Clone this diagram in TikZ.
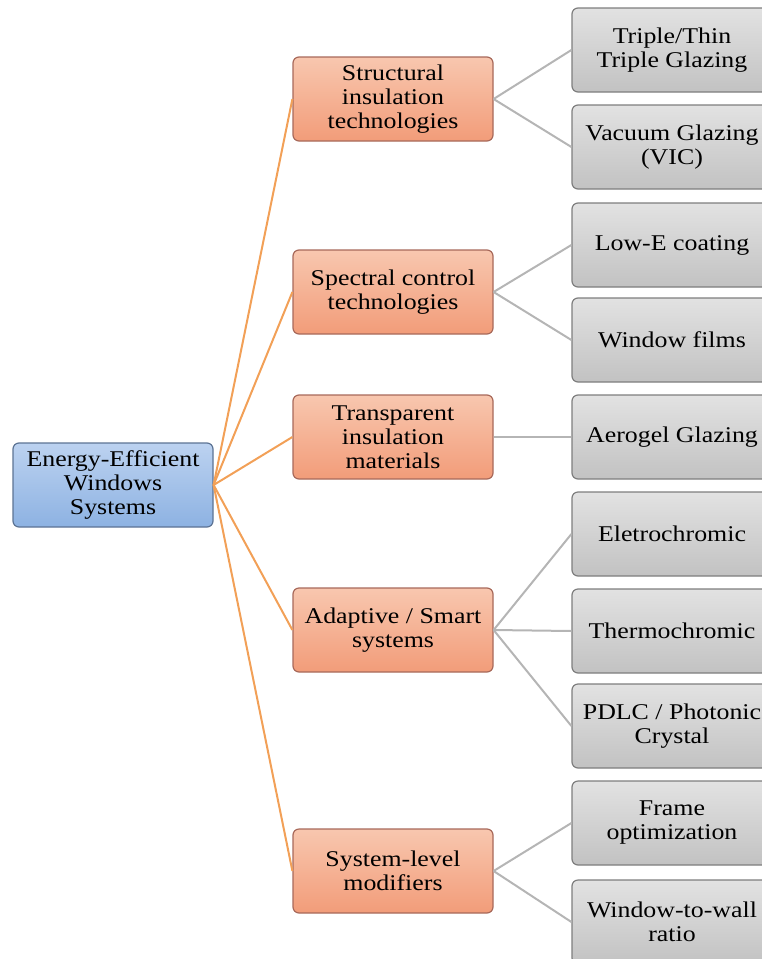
\documentclass[tikz,border=0pt]{standalone}
\usepackage{fontspec}
\setmainfont{Liberation Serif}[FakeStretch=1.15]
\usetikzlibrary{positioning}
\definecolor{roottop}{HTML}{BCD2F0}
\definecolor{rootbot}{HTML}{8DB2E2}
\definecolor{rootedge}{HTML}{5C7394}
\definecolor{cattop}{HTML}{F8C7AF}
\definecolor{catbot}{HTML}{F29C79}
\definecolor{catedge}{HTML}{A8695A}
\definecolor{leaftop}{HTML}{E2E2E2}
\definecolor{leafbot}{HTML}{C2C2C2}
\definecolor{leafedge}{HTML}{7E7E7E}
\definecolor{orangeline}{HTML}{F2A057}
\definecolor{grayline}{HTML}{B5B5B5}
\tikzset{
  box/.style={
    rectangle,
    line width=1.2pt,
    rounded corners=6pt,
    minimum width=200pt,
    minimum height=84pt,
    inner sep=2pt,
    align=center,
    font=\fontsize{22.5}{24}\selectfont
  },
  rootbox/.style={box, draw=rootedge, top color=roottop, bottom color=rootbot},
  catbox/.style={box, draw=catedge, top color=cattop, bottom color=catbot},
  leafbox/.style={box, draw=leafedge, top color=leaftop, bottom color=leafbot},
  rootlink/.style={draw=orangeline, line width=2pt},
  leaflink/.style={draw=grayline, line width=2pt}
}
\begin{document}
\begin{tikzpicture}[x=1pt,y=-1pt]
\useasboundingbox (0,0) rectangle (762,959);
\clip (0,0) rectangle (762,959);

% root
\node[rootbox] (root) at (113,485) {Energy-Efficient\\Windows\\Systems};

% categories
\node[catbox] (struct) at (393,99) {Structural\\insulation\\technologies};
\node[catbox] (spec) at (393,292) {Spectral control\\technologies};
\node[catbox] (trans) at (393,437) {Transparent\\insulation\\materials};
\node[catbox] (adapt) at (393,630) {Adaptive / Smart\\systems};
\node[catbox] (sys) at (393,871) {System-level\\modifiers};

% leaves
\node[leafbox] (triple) at (672,50) {Triple/Thin\\Triple Glazing};
\node[leafbox] (vacuum) at (672,147) {Vacuum Glazing\\(VIC)};
\node[leafbox] (lowe) at (672,245) {Low-E coating};
\node[leafbox] (films) at (672,340) {Window films};
\node[leafbox] (aerogel) at (672,437) {Aerogel Glazing};
\node[leafbox] (electro) at (672,534) {Eletrochromic};
\node[leafbox] (thermo) at (672,631) {Thermochromic};
\node[leafbox] (pdlc) at (672,726) {PDLC / Photonic\\Crystal};
\node[leafbox] (frame) at (672,823) {Frame\\optimization};
\node[leafbox] (wwr) at (672,922) {Window-to-wall\\ratio};

\foreach \c in {struct,spec,trans,adapt,sys}
  \draw[rootlink] (root.east) -- (\c.west);

\draw[leaflink] (struct.east) -- (triple.west);
\draw[leaflink] (struct.east) -- (vacuum.west);
\draw[leaflink] (spec.east) -- (lowe.west);
\draw[leaflink] (spec.east) -- (films.west);
\draw[leaflink] (trans.east) -- (aerogel.west);
\draw[leaflink] (adapt.east) -- (electro.west);
\draw[leaflink] (adapt.east) -- (thermo.west);
\draw[leaflink] (adapt.east) -- (pdlc.west);
\draw[leaflink] (sys.east) -- (frame.west);
\draw[leaflink] (sys.east) -- (wwr.west);

\end{tikzpicture}
\end{document}
